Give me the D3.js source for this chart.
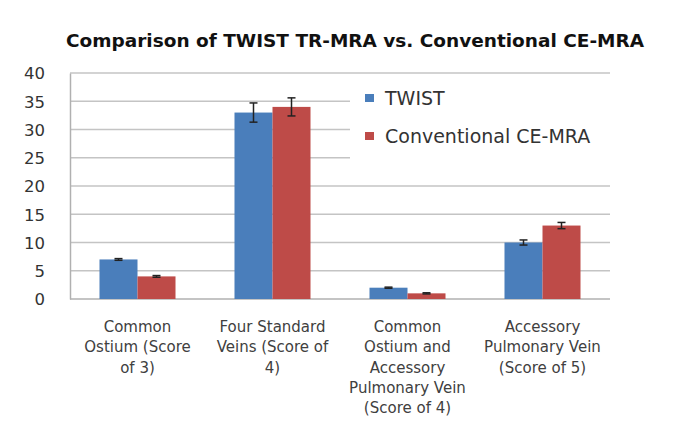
<!DOCTYPE html>
<html>
<head>
<meta charset="utf-8">
<script src="https://cdn.jsdelivr.net/npm/d3@7"></script>
<style>
  body { margin: 0; background: #fff; }
  svg { display: block; font-family: "DejaVu Sans", sans-serif; }
</style>
</head>
<body>
<svg id="chart" width="685" height="427"></svg>
<script>
// chart data
const categories = [
  ['Common', 'Ostium (Score', 'of 3)'],
  ['Four Standard', 'Veins (Score of', '4)'],
  ['Common', 'Ostium and', 'Accessory', 'Pulmonary Vein', '(Score of 4)'],
  ['Accessory', 'Pulmonary Vein', '(Score of 5)']
];
const seriesNames = ['TWIST', 'Conventional CE-MRA'];
const twist = [7, 33, 2, 10];
const twistErr = [0.15, 1.7, 0.1, 0.45];
const conventional = [4, 34, 1, 13];
const conventionalErr = [0.15, 1.6, 0.1, 0.55];
const yTicks = [0, 5, 10, 15, 20, 25, 30, 35, 40];
const colors = ['#4a7ebb', '#be4b48'];

const margin = { top: 73, right: 75, bottom: 128, left: 70 };
const width = 685 - margin.left - margin.right,
      height = 427 - margin.top - margin.bottom;

const svg = d3.select('#chart');

// title
svg.append('text')
  .attr('x', 355)
  .attr('y', 47)
  .attr('text-anchor', 'middle')
  .attr('font-size', 17.5)
  .attr('font-weight', 'bold')
  .attr('fill', '#111')
  .attr('textLength', 578)
  .attr('lengthAdjust', 'spacingAndGlyphs')
  .text('Comparison of TWIST TR-MRA vs. Conventional CE-MRA');

const g = svg.append('g')
  .attr('transform', `translate(${margin.left},${margin.top})`);

const x0 = d3.scaleBand()
  .domain(d3.range(categories.length))
  .range([0, width])
  .paddingInner(0.437)
  .paddingOuter(0.2185);

const x1 = d3.scaleBand()
  .domain([0, 1])
  .range([0, x0.bandwidth()]);

const y = d3.scaleLinear()
  .domain([0, 40])
  .range([height, 0]);

// gridlines
g.append('g')
  .selectAll('line')
  .data(yTicks.filter(d => d > 0))
  .join('line')
  .attr('x1', 0)
  .attr('x2', width)
  .attr('y1', d => y(d))
  .attr('y2', d => y(d))
  .attr('stroke', '#c4c4c4')
  .attr('stroke-width', 1.5);

// y axis
const yAxis = g.append('g')
  .call(d3.axisLeft(y).tickValues(yTicks).tickSize(0).tickPadding(25));
yAxis.select('.domain').attr('stroke', '#b0b0b0').attr('stroke-width', 1.5);
yAxis.selectAll('text')
  .attr('font-size', 16.5)
  .attr('font-family', '"DejaVu Sans", sans-serif')
  .attr('fill', '#333')
  .attr('dy', '0.35em');

// x axis line
g.append('line')
  .attr('x1', 0).attr('x2', width)
  .attr('y1', height).attr('y2', height)
  .attr('stroke', '#b0b0b0')
  .attr('stroke-width', 1.5);

// legend box covering gridlines
g.append('rect')
  .attr('x', 280)
  .attr('y', 12)
  .attr('width', width - 280 + 2)
  .attr('height', 84)
  .attr('fill', '#fff');

// bars
const rows = categories.map((c, i) => [
  { s: 0, v: twist[i], e: twistErr[i] },
  { s: 1, v: conventional[i], e: conventionalErr[i] }
]);

const groups = g.append('g')
  .selectAll('g')
  .data(rows)
  .join('g')
  .attr('transform', (d, i) => `translate(${x0(i)},0)`);

groups.selectAll('rect')
  .data(d => d)
  .join('rect')
  .attr('x', d => x1(d.s))
  .attr('y', d => y(d.v))
  .attr('width', x1.bandwidth())
  .attr('height', d => height - y(d.v))
  .attr('fill', d => colors[d.s]);

// error bars
const err = groups.selectAll('g.err')
  .data(d => d)
  .join('g')
  .attr('class', 'err')
  .attr('stroke', '#222')
  .attr('stroke-width', 1.5);

const cx = d => x1(d.s) + x1.bandwidth() / 2;
err.append('line')
  .attr('x1', cx).attr('x2', cx)
  .attr('y1', d => y(d.v + d.e)).attr('y2', d => y(d.v - d.e));
err.append('line')
  .attr('x1', d => cx(d) - 4).attr('x2', d => cx(d) + 4)
  .attr('y1', d => y(d.v + d.e)).attr('y2', d => y(d.v + d.e));
err.append('line')
  .attr('x1', d => cx(d) - 4).attr('x2', d => cx(d) + 4)
  .attr('y1', d => y(d.v - d.e)).attr('y2', d => y(d.v - d.e));

// category labels
const labels = g.append('g')
  .selectAll('text')
  .data(categories)
  .join('text')
  .attr('x', (d, i) => x0(i) + x0.bandwidth() / 2)
  .attr('y', height + 33)
  .attr('text-anchor', 'middle')
  .attr('font-size', 15)
  .attr('fill', '#404040');

labels.selectAll('tspan')
  .data(d => d)
  .join('tspan')
  .attr('x', function() { return this.parentNode.getAttribute('x'); })
  .attr('dy', (d, i) => i === 0 ? 0 : 20.3)
  .text(d => d);

// legend
const legend = g.append('g')
  .attr('transform', 'translate(295,25)');

const item = legend.selectAll('g')
  .data(seriesNames)
  .join('g')
  .attr('transform', (d, i) => `translate(0,${i * 38})`);

item.append('rect')
  .attr('x', 0)
  .attr('y', -4)
  .attr('width', 9)
  .attr('height', 8)
  .attr('fill', (d, i) => colors[i]);

item.append('text')
  .attr('x', 20)
  .attr('y', 0)
  .attr('dy', '0.35em')
  .attr('font-size', 19)
  .attr('fill', '#333')
  .text(d => d);
</script>
</body>
</html>
